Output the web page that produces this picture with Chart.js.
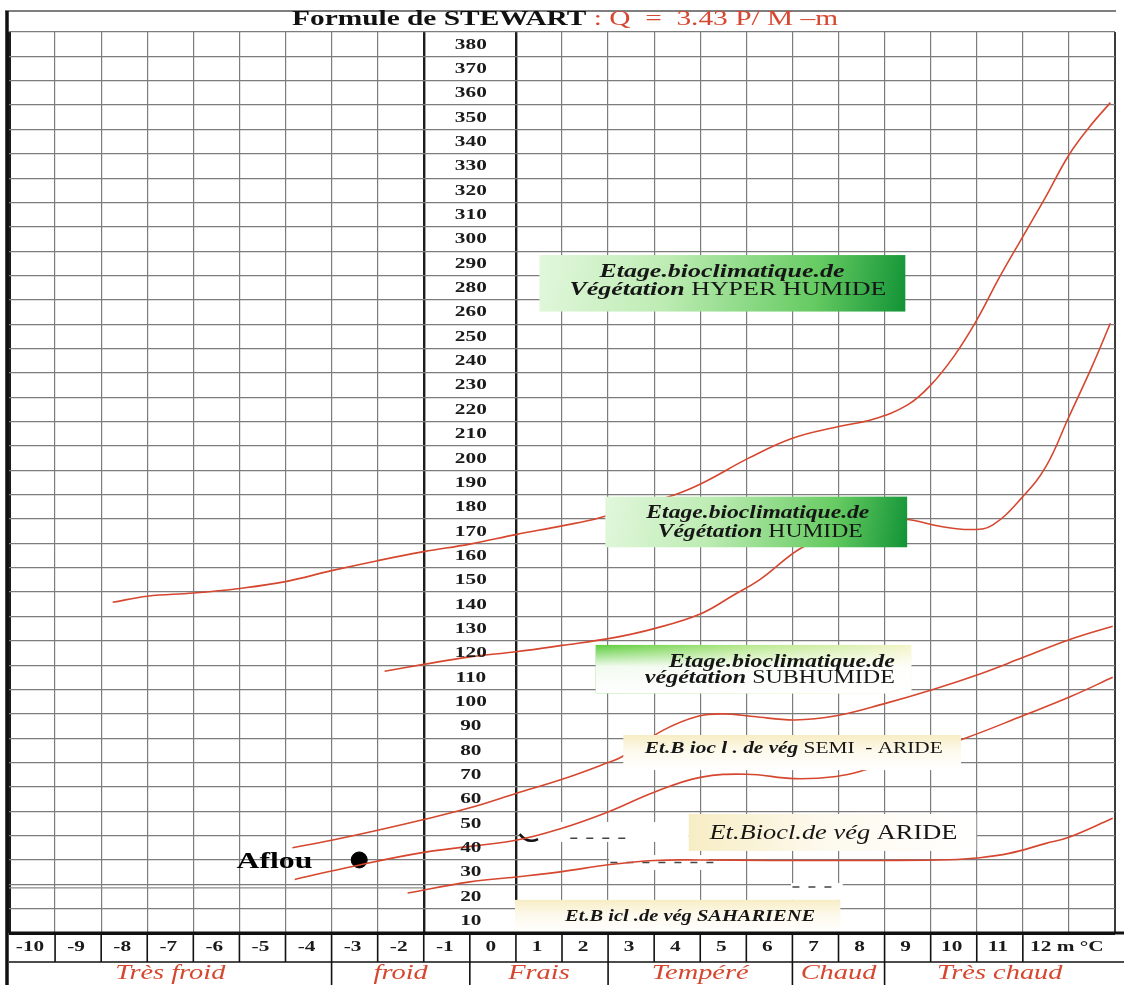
<!DOCTYPE html>
<html>
<head>
<meta charset="utf-8">
<title>Formule de Stewart - climagramme</title>
<script src="https://cdn.jsdelivr.net/npm/chart.js@4.4.1/dist/chart.umd.min.js"></script>
<style>
  html, body { margin: 0; padding: 0; background: #fff; }
  #wrap { width: 1124px; height: 985px; }
</style>
</head>
<body>
<div id="wrap"><canvas id="chart" width="1124" height="985"></canvas></div>
<script>
// m (°C) along x, Q along y; grid cells
const SERIF = '"Liberation Serif", "Times New Roman", serif'
const RED = '#d6472f'
const STRETCH = 1.42 // the scan is wider than it is tall, text included

const M_LABELS = ['-10', '-9', '-8', '-7', '-6', '-5', '-4', '-3', '-2', '-1', '0', '1', '2',
    '3', '4', '5', '6', '7', '8', '9', '10', '11', '12 m °C']
// the original sheet skips 270
const Q_LABELS = ['10', '20', '30', '40', '50', '60', '70', '80', '90', '100', '110', '120', '130',
    '140', '150', '160', '170', '180', '190', '200', '210', '220', '230', '240', '250', '260',
    '280', '290', '300', '310', '320', '330', '340', '350', '360', '370', '380']
const ZONE_LABELS = ['Très froid', 'froid', 'Frais', 'Tempéré', 'Chaud', 'Très chaud']
const ZONE_BOUNDS = [-10, -3, 0, 3, 7, 9, 14]

// limit hyper humide / humide
const HH_M = [-7.75, -7.0, -6.0, -5.0, -4.0, -3.0, -2.0, -1.0, 0, 1.0, 2.0, 2.8, 4.45, 5.05, 6.05, 7.0, 8.0, 8.75, 9.5, 10.0, 10.5, 11.0, 11.5, 12.0, 12.5, 13.0, 13.45, 13.9]
const HH_Q = [135.8, 138.3, 139.6, 141.5, 144.3, 148.8, 152.9, 156.6, 159.7, 163.6, 167.2, 170.4, 180.0, 184.8, 195.0, 203.2, 208.0, 211.0, 216.9, 225.0, 236.7, 251.7, 269.5, 286.0, 302.4, 319.5, 331.1, 341.0]
// limit humide / subhumide
const HS_M = [-1.85, -1.0, 0, 1.0, 2.0, 3.1, 4.0, 5.0, 5.7, 6.3, 7.2, 8.2, 8.9, 9.5, 10.2, 10.9, 11.35, 12.0, 12.5, 13.0, 13.5, 13.9]
const HS_Q = [107.5, 110.3, 113.4, 115.5, 118.1, 121.2, 125.0, 131.0, 138.5, 145.2, 158.2, 166.0, 169.5, 169.8, 167.0, 165.7, 167.6, 179.2, 191.5, 212.0, 232.6, 250.4]
// limit subhumide / semi-aride
const SS_M = [-3.85, -3.0, -2.0, -1.0, 0.0, 1.0, 2.0, 3.0, 3.3, 4.2, 4.95, 5.5, 6.15, 7.05, 7.95, 9.0, 10.05, 11.1, 12.0, 13.05, 13.95]
const SS_Q = [35.0, 38.1, 42.2, 46.6, 51.4, 57.3, 63.1, 70.0, 72.4, 83.3, 89.0, 90.0, 88.9, 87.5, 89.2, 94.2, 100.0, 106.6, 113.1, 120.7, 126.0]
// limit semi-aride / aride
const SA_M = [-3.8, -2.75, -1.0, 1.0, 2.0, 3.0, 4.0, 5.0, 6.0, 7.05, 7.95, 8.55, 9.6, 10.75, 12.0, 13.05, 13.95]
const SA_Q = [22.0, 26.5, 33.1, 38.1, 43.0, 49.7, 57.8, 63.9, 65.2, 63.4, 64.3, 66.8, 73.0, 80.0, 89.2, 97.2, 105.0]
// limit aride / saharien
const AS_M = [-1.35, 0.0, 1.0, 2.0, 3.0, 4.0, 5.0, 6.5, 9.1, 10.4, 11.0, 11.7, 12.5, 13.0, 13.95]
const AS_Q = [16.4, 21.0, 23.0, 25.2, 28.0, 29.8, 30.0, 29.8, 29.8, 30.1, 30.8, 32.7, 36.8, 39.3, 47.1]

const AFLOU_M = [-2.4]
const AFLOU_Q = [30.0]

// stage captions: box [m0, m1, q0, q1], text centres in m/Q, target widths in px
const STAGES = [
    { box: [1.51, 9.45, 278.4, 255.2], fill: 'green', size: 19, lines: [
        { at: [5.47, 271.6], width: 245, parts: [['Etage.bioclimatique.de', 'bi']] },
        { at: [5.60, 264.1], width: 317, parts: [['Végétation ', 'bi'], ['HYPER HUMIDE', 'r']] }] },
    { box: [2.94, 9.49, 179.2, 158.4], fill: 'green', size: 19, lines: [
        { at: [6.25, 172.4], width: 223, parts: [['Etage.bioclimatique.de', 'bi']] },
        { at: [6.30, 164.8], width: 205, parts: [['Végétation ', 'bi'], ['HUMIDE', 'r']] }] },
    { box: [2.73, 9.58, 118.3, 98.4], fill: 'subhumide', size: 19, lines: [
        { at: [6.77, 111.4], width: 226, parts: [['Etage.bioclimatique.de', 'bi']] },
        { at: [6.51, 104.6], width: 250, parts: [['végétation ', 'bi'], ['SUBHUMIDE', 'r']] }] },
    { box: [3.33, 10.66, 81.3, 66.9], fill: 'paleTop', size: 17, lines: [
        { at: [7.03, 75.9], width: 298, parts: [['Et.B ioc l . de vég ', 'bi'], ['SEMI  - ARIDE', 'r']] }] },
    { box: [4.75, 10.99, 48.9, 33.7], fill: 'paleLeft', size: 21, lines: [
        { at: [7.89, 40.9], width: 248, parts: [['Et.Biocl.de vég ', 'i'], ['ARIDE', 'r']] }] },
    { box: [0.98, 8.04, 13.6, 0], fill: 'paleTop', size: 16, lines: [
        { at: [4.78, 6.7], width: 250, parts: [['Et.B icl .de vég SAHARIENE', 'bi']] }] }
]

// white scratches left on the scanned grid
const PATCHES = [
    { box: [1.08, 4.75, 45.6, 37.4], dash: [2.18, 3.47, 38.9] },
    { box: [3.02, 5.18, 32.0, 25.9], dash: [3.05, 5.3, 29.0] },
    { box: [6.97, 8.09, 20.5, 13.6], dash: [7.0, 8.0, 18.9] }
]

const fontFor = (style, size) => ({ bi: 'italic bold ', i: 'italic ', b: 'bold ', r: '' }[style]) + size + 'px ' + SERIF
const curve = (ms, qs) => ms.map((m, i) => ({ x: m, y: qs[i] }))

// draws text runs centred on (cx, cy), squeezed or stretched to the given width
function drawRuns(ctx, runs, cx, cy, width) {
    ctx.save()
    ctx.textAlign = 'left'
    ctx.textBaseline = 'middle'
    let natural = 0
    const widths = runs.map(r => {
        ctx.font = r.font
        const w = ctx.measureText(r.text).width
        natural += w
        return w
    })
    const sx = width ? width / natural : STRETCH
    ctx.translate(cx - natural * sx / 2, cy)
    ctx.scale(sx, 1)
    let x = 0
    runs.forEach((r, i) => {
        ctx.font = r.font
        ctx.fillStyle = r.color || '#111'
        ctx.fillText(r.text, x, 0)
        x += widths[i]
    })
    ctx.restore()
}

function line(ctx, x0, y0, x1, y1) {
    ctx.beginPath()
    ctx.moveTo(x0, y0)
    ctx.lineTo(x1, y1)
    ctx.stroke()
}

function boxFill(ctx, kind, x0, y0, x1, y1) {
    let g
    if (kind === 'green') {
        g = ctx.createLinearGradient(x0, y0, x1, y1)
        g.addColorStop(0, '#e2f7dc')
        g.addColorStop(0.35, '#bdecb3')
        g.addColorStop(0.75, '#66cb62')
        g.addColorStop(1, '#129336')
        ctx.fillStyle = g
        ctx.fillRect(x0, y0, x1 - x0, y1 - y0)
        return
    }
    if (kind === 'subhumide') {
        g = ctx.createLinearGradient(x0, 0, x1, 0)
        g.addColorStop(0, '#5ccd3c')
        g.addColorStop(0.5, '#b9e98e')
        g.addColorStop(1, '#f3f5c9')
        ctx.fillStyle = g
        ctx.fillRect(x0, y0, x1 - x0, y1 - y0)
        g = ctx.createLinearGradient(0, y0, 0, y1)
        g.addColorStop(0, 'rgba(255,255,255,0)')
        g.addColorStop(0.45, 'rgba(255,255,255,0.92)')
        g.addColorStop(1, '#fff')
        ctx.fillStyle = g
        ctx.fillRect(x0, y0, x1 - x0, y1 - y0)
        return
    }
    if (kind === 'paleTop') g = ctx.createLinearGradient(0, y0, 0, y1)
    else g = ctx.createLinearGradient(x0, 0, x1, 0)
    g.addColorStop(0, '#f7edc4')
    g.addColorStop(0.45, '#fdf9ec')
    g.addColorStop(1, '#ffffff')
    ctx.fillStyle = g
    ctx.fillRect(x0, y0, x1 - x0, y1 - y0)
}

const sheet = {
    id: 'sheet',
    beforeDatasetsDraw(chart) {
        const { ctx, scales: { x, y } } = chart
        ctx.save()
        // the doubled line just under 20 on the cold side
        ctx.strokeStyle = '#8a8a8a'
        ctx.lineWidth = 1.2
        line(ctx, x.getPixelForValue(-10), y.getPixelForValue(18.5), x.getPixelForValue(-1), y.getPixelForValue(18.5))
        PATCHES.forEach(p => {
            const [m0, m1, q0, q1] = p.box
            const x0 = x.getPixelForValue(m0), x1 = x.getPixelForValue(m1)
            const y0 = y.getPixelForValue(q0), y1 = y.getPixelForValue(q1)
            ctx.fillStyle = '#fff'
            ctx.fillRect(x0, y0, x1 - x0, y1 - y0)
            const [d0, d1, dq] = p.dash
            ctx.strokeStyle = '#444'
            ctx.lineWidth = 1.5
            ctx.setLineDash([7, 9])
            line(ctx, x.getPixelForValue(d0), y.getPixelForValue(dq), x.getPixelForValue(d1), y.getPixelForValue(dq))
            ctx.setLineDash([])
        })
        // small ink hook next to the m = 1 line
        ctx.strokeStyle = '#111'
        ctx.lineWidth = 2.5
        ctx.beginPath()
        ctx.moveTo(x.getPixelForValue(1.08), y.getPixelForValue(40.6))
        ctx.quadraticCurveTo(x.getPixelForValue(1.25), y.getPixelForValue(36.5), x.getPixelForValue(1.48), y.getPixelForValue(38.6))
        ctx.stroke()
        ctx.restore()
    },
    afterDatasetsDraw(chart) {
        const { ctx, scales: { x, y } } = chart
        STAGES.forEach(s => {
            const [m0, m1, q0, q1] = s.box
            boxFill(ctx, s.fill, x.getPixelForValue(m0), y.getPixelForValue(q0), x.getPixelForValue(m1), y.getPixelForValue(q1))
            s.lines.forEach(l => {
                const runs = l.parts.map(([text, style]) => ({ text, font: fontFor(style, s.size), color: '#161616' }))
                drawRuns(ctx, runs, x.getPixelForValue(l.at[0]), y.getPixelForValue(l.at[1]), l.width)
            })
        })
        // Q labels in the column between m = -1 and m = 1
        const cx = x.getPixelForValue(0) + 1
        Q_LABELS.forEach((label, i) => {
            drawRuns(ctx, [{ text: label, font: fontFor('b', 15), color: '#1a1a1a' }], cx, y.getPixelForValue(i * 10 + 5) + 0.5)
        })
        drawRuns(ctx, [{ text: 'Aflou', font: fontFor('b', 24), color: '#000' }],
            x.getPixelForValue(-4.24), y.getPixelForValue(29.4), 76)
    },
    afterDraw(chart) {
        const { ctx, chartArea, scales: { x } } = chart
        const top = chartArea.bottom
        const mid = top + 29
        const bottom = chart.height
        ctx.save()
        // frame
        ctx.strokeStyle = '#555'
        ctx.lineWidth = 1.5
        line(ctx, 5, 11, chartArea.right + 1, 11)
        ctx.strokeStyle = '#111'
        ctx.lineWidth = 3.5
        line(ctx, 7, 11, 7, bottom)
        // m row and climate zone row
        ctx.lineWidth = 3
        line(ctx, chartArea.left, top, chart.width, top)
        ctx.lineWidth = 1.6
        line(ctx, chartArea.left, mid, chart.width, mid)
        for (let m = -9; m <= 12; m++) line(ctx, x.getPixelForValue(m), top, x.getPixelForValue(m), mid)
        ZONE_BOUNDS.slice(1, -1).forEach(m => line(ctx, x.getPixelForValue(m), mid, x.getPixelForValue(m), bottom))
        ctx.restore()

        M_LABELS.forEach((label, i) => {
            const m0 = -10 + i
            const m1 = i === M_LABELS.length - 1 ? 14 : m0 + 1
            const cxm = (x.getPixelForValue(m0) + x.getPixelForValue(m1)) / 2 - 2
            drawRuns(ctx, [{ text: label, font: fontFor('b', 15), color: '#1a1a1a' }], cxm, top + 14.5)
        })
        ZONE_LABELS.forEach((label, i) => {
            const cxz = (x.getPixelForValue(ZONE_BOUNDS[i]) + x.getPixelForValue(ZONE_BOUNDS[i + 1])) / 2
            drawRuns(ctx, [{ text: label, font: fontFor('i', 20), color: RED }], cxz, mid + 11.5)
        })
        // title
        drawRuns(ctx, [
            { text: 'Formule de STEWART', font: fontFor('b', 20), color: '#111' },
            { text: ' : Q  =  3.43 P/ M \u2013m', font: fontFor('r', 20), color: RED }
        ], 565, 20, 546)
    }
}

const limitStyle = {
    borderColor: RED,
    borderWidth: 1.6,
    pointRadius: 0,
    showLine: true,
    fill: false,
    tension: 0.4
}

const xGridColor = (ctx) => {
    const v = ctx.tick.value
    if (v === 0) return 'rgba(0,0,0,0)'
    if (v === -10 || v === -1 || v === 1) return '#1c1c1c'
    if (v === 14) return '#3a3a3a'
    return '#7c7c7c'
}
const xGridWidth = (ctx) => {
    const v = ctx.tick.value
    if (v === -10) return 3
    if (v === -1 || v === 1) return 2.4
    if (v === 14) return 2
    return 1.2
}

new Chart(document.getElementById('chart'), {
    type: 'scatter',
    data: {
        datasets: [
            { label: 'Hyper humide / humide', data: curve(HH_M, HH_Q), ...limitStyle },
            { label: 'Humide / subhumide', data: curve(HS_M, HS_Q), ...limitStyle },
            { label: 'Subhumide / semi-aride', data: curve(SS_M, SS_Q), ...limitStyle },
            { label: 'Semi-aride / aride', data: curve(SA_M, SA_Q), ...limitStyle },
            { label: 'Aride / saharien', data: curve(AS_M, AS_Q), ...limitStyle },
            {
                label: 'Aflou',
                data: curve(AFLOU_M, AFLOU_Q),
                pointRadius: 8,
                backgroundColor: '#000',
                borderColor: '#000',
                showLine: false
            }
        ]
    },
    options: {
        responsive: false,
        animation: false,
        devicePixelRatio: 1,
        events: [],
        layout: { padding: { left: 8, right: 3, top: 32, bottom: 52 } },
        plugins: {
            legend: { display: false },
            tooltip: { enabled: false }
        },
        scales: {
            x: {
                type: 'linear',
                min: -10,
                max: 14,
                ticks: { display: false, stepSize: 1 },
                grid: { color: xGridColor, lineWidth: xGridWidth, drawTicks: false },
                border: { display: false }
            },
            y: {
                type: 'linear',
                min: 0,
                max: 370,
                ticks: { display: false, stepSize: 10 },
                grid: {
                    color: (ctx) => ctx.tick.value === 0 ? '#111' : '#7c7c7c',
                    lineWidth: (ctx) => ctx.tick.value === 0 ? 3 : 1.2,
                    drawTicks: false
                },
                border: { display: false }
            }
        }
    },
    plugins: [sheet]
})
</script>
</body>
</html>
